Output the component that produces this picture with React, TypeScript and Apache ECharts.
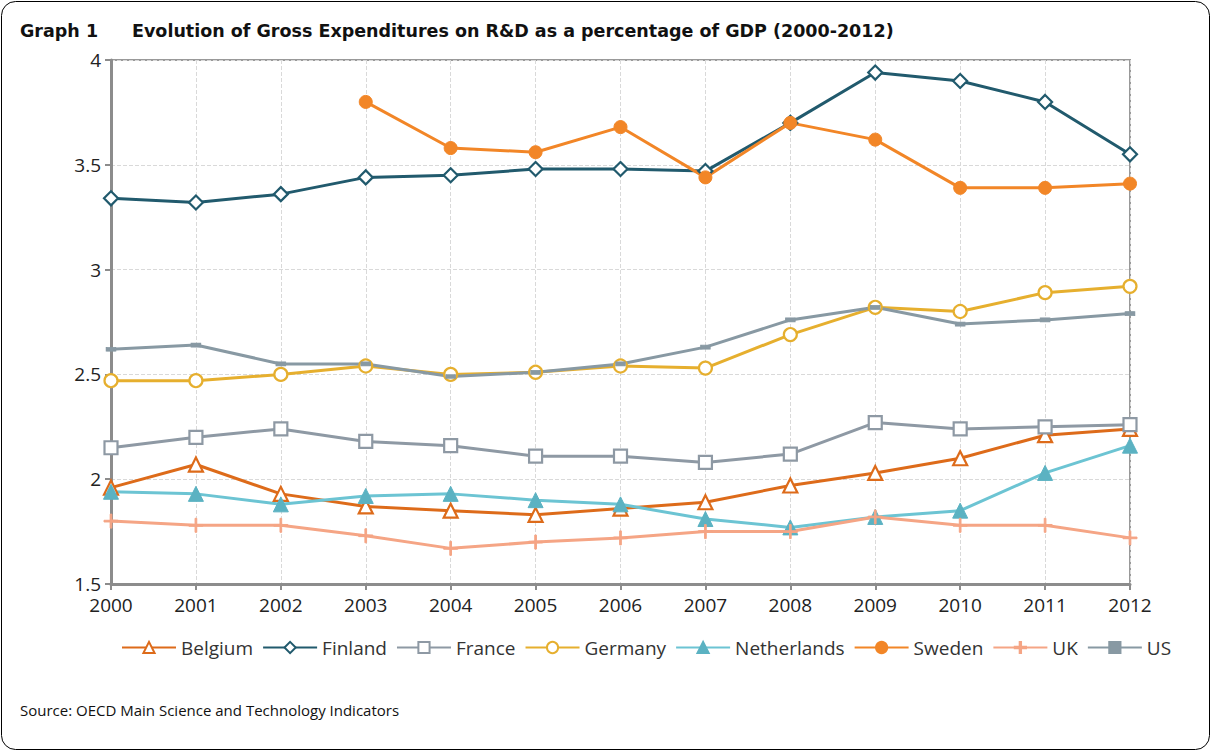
import React, { useEffect, useRef } from "react";
import * as echarts from "echarts";

const years = ["2000","2001","2002","2003","2004","2005","2006","2007","2008","2009","2010","2011","2012"];
const belgium = [1.96, 2.07, 1.93, 1.87, 1.85, 1.83, 1.86, 1.89, 1.97, 2.03, 2.10, 2.21, 2.24];
const finland = [3.34, 3.32, 3.36, 3.44, 3.45, 3.48, 3.48, 3.47, 3.70, 3.94, 3.90, 3.80, 3.55];
const france = [2.15, 2.20, 2.24, 2.18, 2.16, 2.11, 2.11, 2.08, 2.12, 2.27, 2.24, 2.25, 2.26];
const germany = [2.47, 2.47, 2.50, 2.54, 2.50, 2.51, 2.54, 2.53, 2.69, 2.82, 2.80, 2.89, 2.92];
const netherlands = [1.94, 1.93, 1.88, 1.92, 1.93, 1.90, 1.88, 1.81, 1.77, 1.82, 1.85, 2.03, 2.16];
const sweden = [null, null, null, 3.80, 3.58, 3.56, 3.68, 3.44, 3.70, 3.62, 3.39, 3.39, 3.41];
const uk = [1.80, 1.78, 1.78, 1.73, 1.67, 1.70, 1.72, 1.75, 1.75, 1.82, 1.78, 1.78, 1.72];
const us = [2.62, 2.64, 2.55, 2.55, 2.49, 2.51, 2.55, 2.63, 2.76, 2.82, 2.74, 2.76, 2.79];

const FONT = "'Open Sans', Lato, sans-serif";
const TFONT = "'DejaVu Sans', 'Open Sans', sans-serif";

export default function App() {
  const ref = useRef<HTMLDivElement>(null);
  useEffect(() => {
    document.body.style.margin = "0";
    const chart = echarts.init(ref.current!, null, { renderer: "svg" });
    const mk = (name: string, data: any[], color: string, symbol: string, size: any, filled: boolean, fillColor?: string) => ({
      name,
      type: "line",
      data,
      symbol,
      symbolSize: size,
      showAllSymbol: true,
      connectNulls: false,
      lineStyle: { color, width: 3 },
      itemStyle: filled
        ? { color: fillColor || color, borderColor: fillColor || color, borderWidth: 1 }
        : { color: "#ffffff", borderColor: color, borderWidth: 2.2 },
      emphasis: { disabled: true },
      z: 3,
    });
    const plusPath = "path://M0,4.4L10,4.4L10,5.6L0,5.6Z M4.4,0L5.6,0L5.6,10L4.4,10Z";
    chart.setOption({
      animation: false,
      textStyle: { fontFamily: FONT },
      graphic: [
        { type: "rect", shape: { x: 1.5, y: 1.5, width: 1208, height: 748, r: 14 }, style: { fill: "none", stroke: "#000", lineWidth: 1 }, silent: true },
        { type: "text", x: 20, y: 22, style: { text: "Graph 1", font: `bold 17.5px ${TFONT}`, fill: "#111" } },
        { type: "text", x: 132, y: 22, style: { text: "Evolution of Gross Expenditures on R&D as a percentage of GDP (2000-2012)", font: `bold 17.5px ${TFONT}`, fill: "#111" } },
        { type: "text", x: 20, y: 702, style: { text: "Source: OECD Main Science and Technology Indicators", font: `15px ${FONT}`, fill: "#111" } },
      ],
      grid: { left: 111, right: 82, top: 60, bottom: 168, show: true, borderColor: "#999", borderWidth: 2 },
      legend: {
        top: 633,
        left: 116,
        itemWidth: 54,
        itemHeight: 14,
        itemGap: 9,
        textStyle: { fontSize: 19, color: "#333", fontFamily: FONT },
        data: ["Belgium","Finland","France","Germany","Netherlands","Sweden","UK","US"],
      },
      xAxis: {
        type: "category",
        data: years,
        boundaryGap: false,
        axisLine: { lineStyle: { color: "#8c8c8c", width: 3 } },
        axisTick: { show: true, length: 6, lineStyle: { color: "#8c8c8c", width: 2 } },
        axisLabel: { fontSize: 19, color: "#222", margin: 11 },
        splitLine: { show: true, lineStyle: { color: "#d9d9d9", type: "dashed", width: 1 } },
      },
      yAxis: {
        type: "value",
        min: 1.5,
        max: 4,
        interval: 0.5,
        axisLine: { show: true, lineStyle: { color: "#8c8c8c", width: 3 } },
        axisTick: { show: true, length: 6, lineStyle: { color: "#8c8c8c", width: 2 } },
        axisLabel: { fontSize: 19, color: "#222", margin: 10 },
        splitLine: { show: true, lineStyle: { color: "#d9d9d9", type: "dashed", width: 1 } },
      },
      series: [
        mk("Belgium", belgium, "#DD6B1A", "triangle", 14, false),
        mk("Finland", finland, "#215A6D", "diamond", 14, false),
        mk("France", france, "#8E99A4", "rect", 13, false),
        mk("Germany", germany, "#E6AF2E", "circle", 13, false),
        mk("Netherlands", netherlands, "#6CC4D3", "triangle", 15, true, "#5BB2C2"),
        mk("Sweden", sweden, "#F28627", "circle", 13, true),
        mk("UK", uk, "#F5A585", plusPath, 14, true),
        mk("US", us, "#8899A3", "rect", [9, 4], true),
      ],
    });
    return () => chart.dispose();
  }, []);
  return <div ref={ref} style={{ position: "absolute", left: 0, top: 0, width: 1212, height: 752, background: "#fff" }} />;
}
